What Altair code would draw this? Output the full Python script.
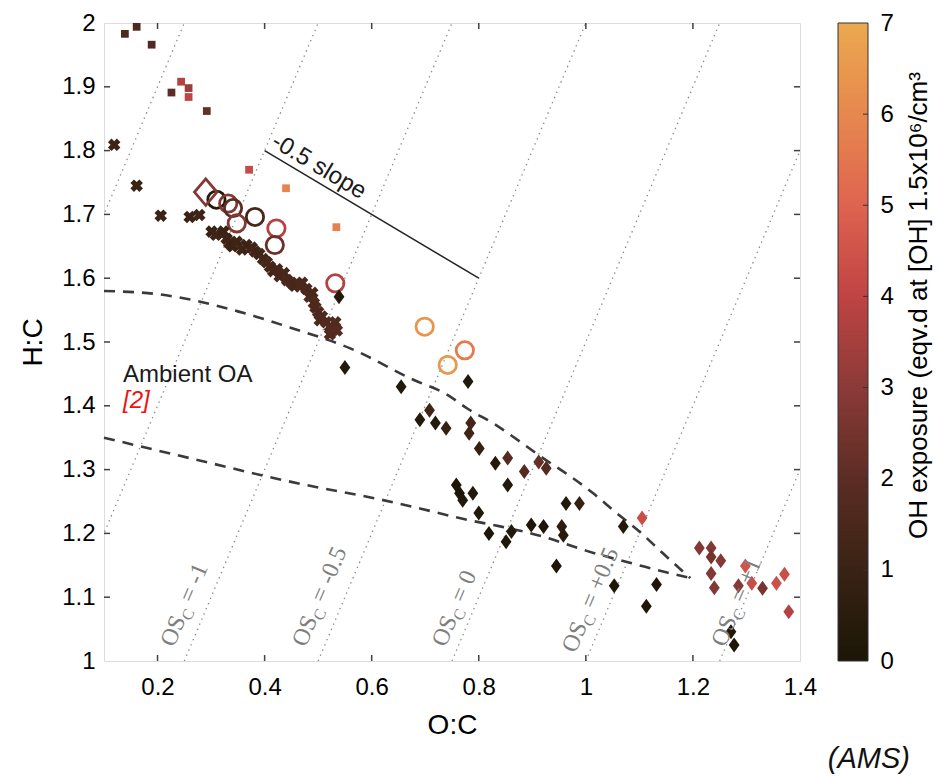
import altair as alt
import pandas as pd
import numpy as np

# ---------------- data ----------------
# filled squares
sq_x = [0.139, 0.161, 0.189, 0.226, 0.244, 0.258, 0.258, 0.292, 0.371, 0.440, 0.534]
sq_y = [1.983, 1.994, 1.966, 1.891, 1.908, 1.898, 1.884, 1.862, 1.770, 1.741, 1.680]
sq_oh = [1.6, 1.6, 1.7, 2.0, 3.8, 3.3, 4.0, 2.2, 4.2, 5.9, 5.8]

# x-shaped crosses
cr_x = [0.119, 0.161, 0.206, 0.260, 0.278, 0.301, 0.309, 0.323, 0.329, 0.334, 0.340,
        0.348, 0.358, 0.366, 0.376, 0.382, 0.390, 0.397, 0.404, 0.410, 0.416, 0.423,
        0.428, 0.436, 0.442, 0.450, 0.456, 0.466, 0.470, 0.478, 0.484, 0.489, 0.492,
        0.495, 0.500, 0.503, 0.507, 0.515, 0.522, 0.522, 0.528, 0.532, 0.535]
cr_y = [1.809, 1.745, 1.698, 1.696, 1.699, 1.673, 1.668, 1.673, 1.662, 1.655, 1.650,
        1.657, 1.645, 1.652, 1.648, 1.642, 1.638, 1.630, 1.625, 1.618, 1.611, 1.614,
        1.603, 1.608, 1.597, 1.593, 1.588, 1.587, 1.593, 1.583, 1.571, 1.577, 1.561,
        1.554, 1.547, 1.534, 1.540, 1.531, 1.524, 1.512, 1.519, 1.531, 1.518]
cr_oh = [1.1, 1.0, 1.0, 1.0, 1.1, 1.0, 1.1, 1.0, 1.1, 1.2, 1.0,
         1.1, 1.2, 1.1, 1.2, 1.3, 1.2, 1.3, 1.3, 1.4, 1.3, 1.4,
         1.4, 1.4, 1.5, 1.5, 1.4, 1.5, 1.5, 1.5, 1.6, 1.5, 1.6,
         1.6, 1.6, 1.7, 1.6, 1.7, 1.7, 1.7, 1.8, 1.7, 1.8]

# open circles
ci_x = [0.310, 0.332, 0.341, 0.348, 0.382, 0.422, 0.419, 0.532, 0.699, 0.742, 0.774]
ci_y = [1.723, 1.717, 1.710, 1.686, 1.696, 1.678, 1.652, 1.592, 1.524, 1.464, 1.487]
ci_oh = [0.3, 2.8, 2.0, 2.8, 1.4, 3.8, 2.3, 3.8, 6.4, 6.5, 5.6]

# open diamond
od_x = [0.290]
od_y = [1.735]
od_oh = [2.8]

# filled diamonds
di_x = [0.539, 0.550, 0.655, 0.780, 0.708, 0.690, 0.719, 0.739, 0.785, 0.782, 0.801,
        0.831, 0.854, 0.885, 0.912, 0.926, 0.854, 0.758, 0.764, 0.770, 0.789, 0.963,
        0.988, 0.800, 0.819, 0.851, 0.861, 0.898, 0.921, 0.955, 0.958, 0.945, 1.070,
        1.105, 1.053, 1.132, 1.113, 1.212, 1.234, 1.234, 1.252, 1.234, 1.240, 1.285,
        1.298, 1.310, 1.330, 1.356, 1.371, 1.379, 1.271, 1.277]
di_y = [1.571, 1.460, 1.430, 1.438, 1.393, 1.378, 1.373, 1.365, 1.373, 1.357, 1.333,
        1.310, 1.318, 1.297, 1.312, 1.302, 1.276, 1.276, 1.263, 1.252, 1.263, 1.247,
        1.247, 1.232, 1.200, 1.187, 1.203, 1.213, 1.211, 1.211, 1.197, 1.149, 1.211,
        1.224, 1.118, 1.120, 1.086, 1.177, 1.177, 1.163, 1.157, 1.137, 1.115, 1.118,
        1.149, 1.122, 1.114, 1.122, 1.136, 1.077, 1.046, 1.025]
di_oh = [0.3, 0.2, 0.2, 0.2, 1.2, 0.3, 0.3, 0.8, 1.3, 1.2, 0.8,
         0.3, 1.8, 1.8, 2.2, 1.8, 0.2, 0.1, 0.1, 0.2, 0.2, 0.2,
         0.8, 0.2, 0.1, 0.1, 0.2, 0.1, 0.1, 0.6, 0.4, 0.1, 0.3,
         4.3, 0.1, 0.1, 0.1, 2.8, 2.8, 2.5, 2.8, 2.8, 2.8, 2.9,
         4.5, 4.3, 2.6, 4.4, 4.3, 3.8, 0.2, 0.1]

# dashed "Ambient OA" envelope curves
up_x = [0.10, 0.20, 0.27, 0.35, 0.45, 0.56, 0.68, 0.74, 0.78, 0.83, 0.875, 0.92, 0.97, 1.015, 1.05, 1.10, 1.145, 1.195]
up_y = [1.580, 1.575, 1.565, 1.548, 1.522, 1.490, 1.440, 1.418, 1.395, 1.371, 1.345, 1.318, 1.290, 1.262, 1.237, 1.203, 1.168, 1.130]
lo_x = [0.10, 0.20, 0.30, 0.40, 0.50, 0.60, 0.69, 0.78, 0.84, 0.92, 1.00, 1.10, 1.15, 1.195]
lo_y = [1.350, 1.330, 1.310, 1.290, 1.272, 1.256, 1.239, 1.221, 1.211, 1.195, 1.173, 1.150, 1.139, 1.130]

# -0.5 slope reference segment
sl_x = [0.4, 0.8]
sl_y = [1.8, 1.6]

# iso-OSc dotted lines: H:C = 2*O:C + c
osc_c = [1.5, 1.0, 0.5, 0.0, -0.5, -1.0, -1.5]
osc_lbl = ["= -1", "= -0.5", "= 0", "= +0.5", "= +1"]
osc_lx = [0.2306, 0.4769, 0.738, 0.9806, 1.260]
osc_ly = [1.0204, 1.0204, 1.0204, 1.011, 1.0204]

x_ticks = [0.2, 0.4, 0.6, 0.8, 1.0, 1.2, 1.4]
y_ticks = [1.0, 1.1, 1.2, 1.3, 1.4, 1.5, 1.6, 1.7, 1.8, 1.9, 2.0]
cb_ticks = [0, 1, 2, 3, 4, 5, 6, 7]
cb_colors = ["#1c1606", "#3a2315", "#5c2d25", "#8c3a38", "#c04444", "#de6450", "#e6884f", "#eaa950"]

# ---------------- styling ----------------
FONT = "Liberation Sans"
W, H = 696, 638
xs = alt.Scale(domain=[0.1, 1.4], nice=False, zero=False)
ys = alt.Scale(domain=[1.0, 2.0], nice=False, zero=False)
cs = alt.Scale(domain=cb_ticks, range=cb_colors)

xaxis = alt.Axis(title="O:C", orient="bottom", values=x_ticks, format="~g", ticks=False, domain=False,
                 grid=False, labelFlush=False, labelOverlap=False, labelPadding=14, labelFontSize=24,
                 titleFontSize=28, titlePadding=12, titleFontWeight="normal")
yaxis = alt.Axis(title="H:C", orient="left", values=y_ticks, format="~g", ticks=False, domain=False,
                 grid=False, labelFlush=False, labelOverlap=False, labelPadding=9, labelFontSize=24,
                 titleFontSize=28, titlePadding=14, titleFontWeight="normal")


def X(f):
    return alt.X(f, type="quantitative", scale=xs, axis=xaxis)


def Y(f):
    return alt.Y(f, type="quantitative", scale=ys, axis=yaxis)


def C(f):
    return alt.Color(f, type="quantitative", scale=cs, legend=None)


# ---------------- layers ----------------
osc_rows = []
for c in osc_c:
    osc_rows.append({"c": c, "x": (1 - c) / 2, "y": 1.0})
    osc_rows.append({"c": c, "x": (2 - c) / 2, "y": 2.0})
osc_df = pd.DataFrame(osc_rows)
osc_lines = alt.Chart(osc_df).mark_line(clip=True, color="#8a8a8a", strokeWidth=1.3,
                                        strokeDash=[1.4, 4.2]).encode(
    x=X("x"), y=Y("y"), detail="c:N")

curve_df = pd.concat([
    pd.DataFrame({"x": up_x, "y": up_y, "k": "up"}),
    pd.DataFrame({"x": lo_x, "y": lo_y, "k": "lo"}),
])
curves = alt.Chart(curve_df).mark_line(color="#3a3a3a", strokeWidth=2.6, strokeDash=[11, 8],
                                       interpolate="monotone").encode(
    x=X("x"), y=Y("y"), detail="k:N")

slope_df = pd.DataFrame({"x": sl_x, "y": sl_y})
slope = alt.Chart(slope_df).mark_line(color="#222222", strokeWidth=1.5).encode(x=X("x"), y=Y("y"))

sq = alt.Chart(pd.DataFrame({"x": sq_x, "y": sq_y, "oh": sq_oh})).mark_point(
    shape="square", filled=True, opacity=1, size=60).encode(x=X("x"), y=Y("y"), color=C("oh"))

ci = alt.Chart(pd.DataFrame({"x": ci_x, "y": ci_y, "oh": ci_oh})).mark_point(
    shape="circle", filled=False, opacity=1, size=300, strokeWidth=2.8).encode(
    x=X("x"), y=Y("y"), color=C("oh"))

od = alt.Chart(pd.DataFrame({"x": od_x, "y": od_y, "oh": od_oh})).mark_point(
    shape="M0,-1L0.85,0L0,1L-0.85,0Z", filled=False, opacity=1, size=700, strokeWidth=2.8).encode(
    x=X("x"), y=Y("y"), color=C("oh"))

cr = alt.Chart(pd.DataFrame({"x": cr_x, "y": cr_y, "oh": cr_oh})).mark_point(
    shape="cross", angle=45, filled=True, opacity=1, size=160).encode(
    x=X("x"), y=Y("y"), color=C("oh"))

di = alt.Chart(pd.DataFrame({"x": di_x, "y": di_y, "oh": di_oh})).mark_point(
    shape="M0,-1L0.72,0L0,1L-0.72,0Z", filled=True, opacity=1, size=225).encode(
    x=X("x"), y=Y("y"), color=C("oh"))

# inward ticks on all four sides
tlx = 6 / W * 1.3
tly = 6 / H * 1.0
xt_in = [t for t in x_ticks if t < 1.4]
yt_in = [t for t in y_ticks if 1.0 < t < 2.0]
xt_df = pd.DataFrame({"x": xt_in * 2,
                      "y": [1.0] * len(xt_in) + [2.0] * len(xt_in),
                      "y2": [1.0 + tly] * len(xt_in) + [2.0 - tly] * len(xt_in)})
yt_df = pd.DataFrame({"y": yt_in * 2,
                      "x": [0.1] * len(yt_in) + [1.4] * len(yt_in),
                      "x2": [0.1 + tlx] * len(yt_in) + [1.4 - tlx] * len(yt_in)})
xt = alt.Chart(xt_df).mark_rule(color="#404040", strokeWidth=1.5).encode(x=X("x"), y=Y("y"), y2="y2")
yt = alt.Chart(yt_df).mark_rule(color="#404040", strokeWidth=1.5).encode(y=Y("y"), x=X("x"), x2="x2")

# annotations
amb = alt.Chart(pd.DataFrame({"x": [0.1355], "y": [1.437], "t": ["Ambient OA"]})).mark_text(
    align="left", baseline="alphabetic", font=FONT, fontSize=24, color="#1a1a1a").encode(
    x=X("x"), y=Y("y"), text="t:N")
ref = alt.Chart(pd.DataFrame({"x": [0.1355], "y": [1.397], "t": ["[2]"]})).mark_text(
    align="left", baseline="alphabetic", font=FONT, fontSize=24, fontStyle="italic", color="#ee1111").encode(
    x=X("x"), y=Y("y"), text="t:N")
slope_txt = alt.Chart(pd.DataFrame({"x": [0.488], "y": [1.756], "t": ["-0.5 slope"]})).mark_text(
    align="center", baseline="bottom", angle=30.8, dy=-2, font=FONT, fontSize=24, color="#1a1a1a").encode(
    x=X("x"), y=Y("y"), text="t:N")

osc_lab_df = pd.DataFrame({"x": osc_lx, "y": osc_ly, "rest": osc_lbl})
lab_style = dict(angle=293, align="left", baseline="alphabetic", font="Liberation Serif", color="#7f7f7f")
lab1 = alt.Chart(osc_lab_df).mark_text(text="OS", fontSize=24, **lab_style).encode(x=X("x"), y=Y("y"))
lab2 = alt.Chart(osc_lab_df).mark_text(text="C", fontSize=16, dx=31, dy=5, **lab_style).encode(x=X("x"), y=Y("y"))
lab3 = alt.Chart(osc_lab_df).mark_text(fontSize=24, dx=48, **lab_style).encode(
    x=X("x"), y=Y("y"), text="rest:N")

main = alt.layer(osc_lines, curves, slope, sq, ci, od, cr, di, xt, yt,
                 amb, ref, slope_txt, lab1, lab2, lab3)

# ---------------- colorbar ----------------
cb_step = 0.025
cb_v = np.arange(0, 7, cb_step)
cb_df = pd.DataFrame({"v": cb_v, "v2": np.minimum(cb_v + 2 * cb_step, 7), "oh": cb_v + cb_step / 2})
ycb = alt.Scale(domain=[0, 7], nice=False, zero=False)
cbaxis = alt.Axis(orient="right", offset=68, values=cb_ticks, format="d", ticks=False, domain=False,
                  grid=False, labelFontSize=24, labelPadding=12, labelFlush=False,
                  title="OH exposure (eqv.d at [OH] 1.5x10⁶/cm³", titleFontSize=26,
                  titleFontWeight="normal", titleAngle=270, titleBaseline="top", titlePadding=12,
                  titleY=282, titleAlign="center")
cb_x0 = W + 38
cb_x1 = W + 68
cb_rect = alt.Chart(cb_df).mark_rect(strokeWidth=0).encode(
    x=alt.value(cb_x0), x2=alt.value(cb_x1),
    y=alt.Y("v:Q", scale=ycb, axis=cbaxis), y2="v2", color=C("oh"))
cb_tick_df = pd.DataFrame({"v": cb_ticks[1:-1]})
cb_tick = alt.Chart(cb_tick_df).mark_rule(color="#333333", strokeWidth=1).encode(
    x=alt.value(cb_x1 - 5), x2=alt.value(cb_x1),
    y=alt.Y("v:Q", scale=ycb, axis=cbaxis))
cb_border = alt.Chart(pd.DataFrame({"v": [0], "v2": [7]})).mark_rect(
    fill="transparent", stroke="#333333", strokeWidth=1).encode(
    x=alt.value(cb_x0), x2=alt.value(cb_x1),
    y=alt.Y("v:Q", scale=ycb, axis=cbaxis), y2="v2")
cbar = alt.layer(cb_rect, cb_tick, cb_border)

chart = alt.layer(main, cbar).resolve_scale(y="independent").properties(
    width=W, height=H,
    padding={"left": 104, "top": 23, "right": 140, "bottom": 121},
    autosize=alt.AutoSizeParams(type="none"),
    title=alt.TitleParams("(AMS)", orient="bottom", anchor="end", frame="group", dx=110, offset=6,
                          fontSize=29, fontStyle="italic", fontWeight="normal", font=FONT, color="#111111"),
).configure_view(stroke="#404040", strokeWidth=2).configure_axis(
    labelFont=FONT, titleFont=FONT, labelColor="#262626", titleColor="#262626"
).configure(background="white")

chart.save("out.html", embed_options={"renderer": "svg", "actions": False})
